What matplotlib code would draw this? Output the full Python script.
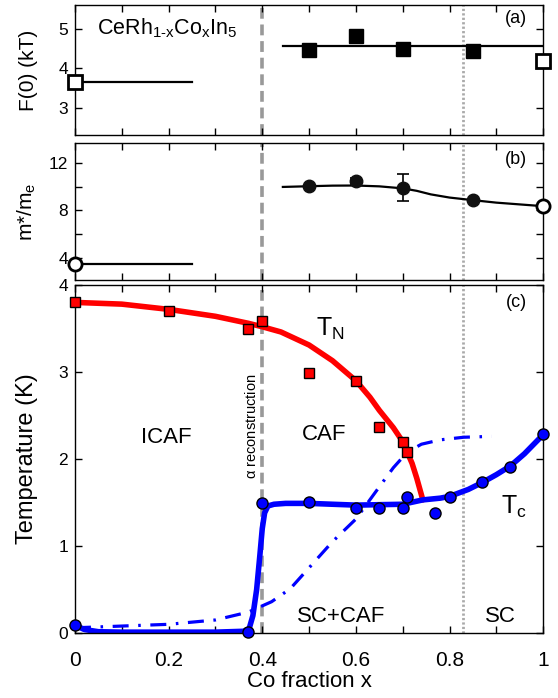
import matplotlib
matplotlib.use('Agg')
import matplotlib.pyplot as plt
from matplotlib.ticker import MultipleLocator

plt.rcParams['font.family'] = ['Liberation Sans', 'DejaVu Sans']
plt.rcParams['mathtext.fontset'] = 'custom'
plt.rcParams['mathtext.rm'] = 'Liberation Sans'
plt.rcParams['mathtext.it'] = 'Liberation Sans'

# ---- data ----
# (a) F(0)
f0_open_x = [0.0, 1.0]
f0_open_y = [3.65, 4.19]
f0_x = [0.5, 0.6, 0.7, 0.85]
f0_y = [4.47, 4.82, 4.48, 4.45]
f0_left_line = ([0.0, 0.25], [3.65, 3.65])
f0_right_line = ([0.444, 1.0], [4.57, 4.57])

# (b) effective mass
m_open_x = [0.0, 1.0]
m_open_y = [3.47, 8.35]
m_x = [0.5, 0.6, 0.7, 0.85]
m_y = [10.06, 10.46, 9.9, 8.86]
m_err = [0.0, 0.3, 1.15, 0.0]
m_left_line = ([0.0, 0.25], [3.47, 3.47])
m_curve_x = [0.444, 0.5, 0.55, 0.6, 0.65, 0.7, 0.73, 0.76, 0.8, 0.85, 0.9, 0.95, 1.0]
m_curve_y = [9.98, 10.04, 10.09, 10.1, 10.03, 9.86, 9.65, 9.35, 9.08, 8.86, 8.65, 8.5, 8.35]

# (c) phase diagram
tn_x = [0.0, 0.2, 0.37, 0.4, 0.5, 0.6, 0.65, 0.7, 0.71]
tn_y = [3.81, 3.70, 3.49, 3.59, 2.99, 2.90, 2.37, 2.20, 2.08]
tn_curve_x = [0.0, 0.1, 0.2, 0.3, 0.37, 0.4, 0.44, 0.5, 0.55, 0.6, 0.63, 0.65, 0.68, 0.70, 0.72, 0.73, 0.743]
tn_curve_y = [3.80, 3.78, 3.72, 3.64, 3.56, 3.52, 3.46, 3.31, 3.13, 2.90, 2.71, 2.56, 2.36, 2.20, 1.95, 1.78, 1.53]

tc_x = [0.0, 0.37, 0.4, 0.5, 0.6, 0.65, 0.7, 0.71, 0.77, 0.8, 0.87, 0.93, 1.0]
tc_y = [0.09, 0.01, 1.49, 1.51, 1.44, 1.44, 1.44, 1.56, 1.38, 1.56, 1.73, 1.91, 2.29]
tc_curve_x = [0.0, 0.02, 0.05, 0.1, 0.2, 0.3, 0.36, 0.372, 0.38, 0.388, 0.395, 0.40, 0.405, 0.412, 0.425,
              0.45, 0.5, 0.6, 0.7, 0.743, 0.78, 0.8, 0.84, 0.87, 0.9, 0.93, 0.96, 1.0]
tc_curve_y = [0.09, 0.04, 0.015, 0.01, 0.01, 0.01, 0.02, 0.05, 0.2, 0.5, 0.9, 1.2, 1.38, 1.46, 1.48,
              1.49, 1.49, 1.47, 1.48, 1.53, 1.55, 1.57, 1.65, 1.73, 1.82, 1.92, 2.06, 2.28]
dd_x = [0.0, 0.1, 0.2, 0.3, 0.37, 0.42, 0.46, 0.5, 0.55, 0.6, 0.65, 0.68, 0.71, 0.74, 0.78, 0.83, 0.89]
dd_y = [0.06, 0.08, 0.10, 0.15, 0.24, 0.36, 0.51, 0.75, 1.05, 1.31, 1.68, 1.90, 2.08, 2.17, 2.22, 2.25, 2.26]

x_recon = 0.40
x_sc = 0.828

fig = plt.figure(figsize=(5.58, 6.98), dpi=100)
left, width = 0.1344, 0.839
ax_a = fig.add_axes([left, 0.8066, width, 0.1862])
ax_b = fig.add_axes([left, 0.5989, width, 0.1962])
ax_c = fig.add_axes([left, 0.0931, width, 0.4986])

for ax in (ax_a, ax_b, ax_c):
    ax.set_xlim(0, 1)
    ax.xaxis.set_major_locator(MultipleLocator(0.2))
    ax.xaxis.set_minor_locator(MultipleLocator(0.1))
    ax.tick_params(which='both', direction='in', top=True, right=True, length=5, width=1)
    ax.tick_params(axis='y', labelsize=12.5, pad=5)
    ax.tick_params(axis='x', labelsize=15, pad=13)
    for s in ax.spines.values():
        s.set_linewidth(1.0)
    ax.axvline(x_recon, color='#999999', lw=2.6, ls=(0, (3, 1.6)), zorder=1)
    ax.axvline(x_sc, color='#aaaaaa', lw=2.0, ls=(0, (0.8, 0.8)), zorder=1)
ax_a.tick_params(labelbottom=False)
ax_b.tick_params(labelbottom=False)

# (a)
ax_a.set_ylim(2.32, 5.6)
ax_a.yaxis.set_major_locator(MultipleLocator(1))
ax_a.plot(*f0_left_line, color='black', lw=1.6, zorder=2)
ax_a.plot(*f0_right_line, color='black', lw=1.6, zorder=2)
ax_a.plot(f0_x, f0_y, 's', ms=10.5, color='black', zorder=3)
ax_a.plot(f0_open_x, f0_open_y, 's', ms=10, mfc='white', mec='black', mew=2, zorder=4, clip_on=False)
ax_a.set_ylabel('F(0) (kT)', fontsize=15)
ax_a.yaxis.set_label_coords(-0.08, 0.5)
ax_a.text(0.047, 0.82, r'CeRh$_{\mathrm{1}\text{-}\mathrm{x}}$Co$_\mathrm{x}$In$_5$', transform=ax_a.transAxes,
          fontsize=15.5, va='center', ha='left')
ax_a.text(0.965, 0.9, '(a)', transform=ax_a.transAxes, fontsize=13, ha='right', va='center')

# (b)
ax_b.set_ylim(2.1, 13.7)
ax_b.set_yticks([4, 6, 8, 10, 12])
ax_b.set_yticklabels(['4', '', '8', '', '12'])
ax_b.plot(*m_left_line, color='black', lw=1.6, zorder=2)
ax_b.plot(m_curve_x, m_curve_y, color='black', lw=1.6, zorder=2)
ax_b.errorbar(m_x, m_y, yerr=m_err, fmt='o', ms=9, color='#111111', ecolor='black',
              elinewidth=1.2, capsize=4, capthick=1.2, zorder=3)
ax_b.plot(m_open_x, m_open_y, 'o', ms=9.5, mfc='white', mec='black', mew=2, zorder=4, clip_on=False)
ax_b.set_ylabel(r'm*/m$_\mathrm{e}$', fontsize=15)
ax_b.yaxis.set_label_coords(-0.08, 0.5)
ax_b.text(0.965, 0.88, '(b)', transform=ax_b.transAxes, fontsize=13, ha='right', va='center')

# (c)
ax_c.set_ylim(0, 4)
ax_c.yaxis.set_major_locator(MultipleLocator(1))
ax_c.plot(tn_curve_x, tn_curve_y, color='#ff0000', lw=4, solid_capstyle='round', zorder=2)
ax_c.plot(tc_curve_x, tc_curve_y, color='#0000ff', lw=4, solid_capstyle='round', zorder=2)
ax_c.plot(dd_x, dd_y, color='#0000ff', lw=2.3, ls=(0, (5, 3, 0.8, 3)), zorder=2)
ax_c.plot(tn_x, tn_y, 's', ms=7.5, mfc='#ff0000', mec='black', mew=1, zorder=3, clip_on=False)
ax_c.plot(tc_x, tc_y, 'o', ms=8, mfc='#0000ff', mec='black', mew=1, zorder=3, clip_on=False)
ax_c.set_ylabel('Temperature (K)', fontsize=17)
ax_c.yaxis.set_label_coords(-0.08, 0.5)
ax_c.set_xlabel('Co fraction x', fontsize=16, labelpad=1)
ax_c.set_xticks([0, 0.2, 0.4, 0.6, 0.8, 1.0])
ax_c.set_xticklabels(['0', '0.2', '0.4', '0.6', '0.8', '1'])
ax_c.text(0.965, 0.95, '(c)', transform=ax_c.transAxes, fontsize=13, ha='right', va='center')
ax_c.text(0.515, 3.5, r'T$_\mathrm{N}$', fontsize=18, ha='left', va='center')
ax_c.text(0.91, 1.45, r'T$_\mathrm{c}$', fontsize=18, ha='left', va='center')
ax_c.text(0.14, 2.25, 'ICAF', fontsize=16, ha='left', va='center')
ax_c.text(0.485, 2.28, 'CAF', fontsize=16, ha='left', va='center')
ax_c.text(0.475, 0.19, 'SC+CAF', fontsize=16, ha='left', va='center')
ax_c.text(0.875, 0.19, 'SC', fontsize=16, ha='left', va='center')
ax_c.text(0.377, 2.38, r'$\alpha$ reconstruction', fontsize=10.5, rotation=90, ha='center', va='center')

plt.savefig('out.png', dpi=100)
